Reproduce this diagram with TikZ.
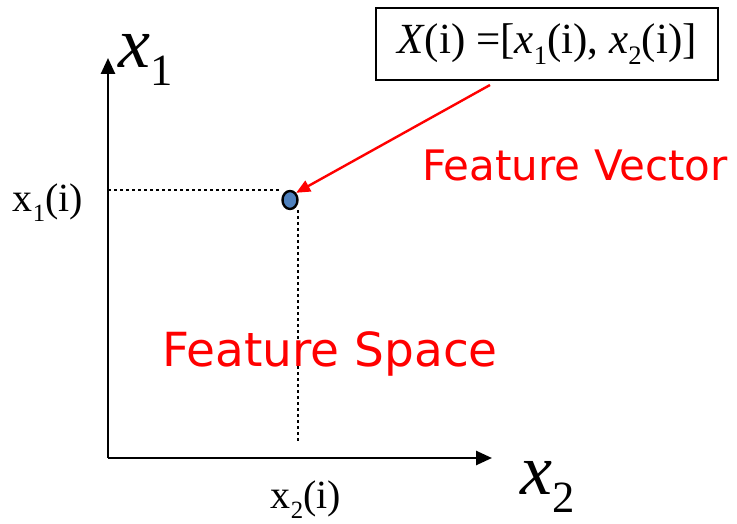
\documentclass[tikz,border=0pt]{standalone}
\usepackage{fontspec}
\usepackage{graphicx}
\setmainfont{Liberation Serif}
\newfontfamily\vsans{DejaVu Sans}
\usetikzlibrary{arrows.meta,shapes.geometric}
\definecolor{dotblue}{RGB}{79,129,189}
\newcommand\lsub[1]{\raisebox{-0.25em}{\scalebox{0.62}{#1}}}
\begin{document}
\begin{tikzpicture}[x=1pt,y=-1pt,
  axis/.style={line width=2.6pt,-{Triangle[length=16pt,width=14pt]}},
  guide/.style={line width=2.6pt,dash pattern=on 2.6pt off 3.4pt},
  redlbl/.style={text=red},
  ]
\useasboundingbox (0,0) rectangle (737,524);
\coordinate (O) at (108,458);
\coordinate (ytip) at (108,58);
\coordinate (xtip) at (492,458);
\draw[axis] (O) -- (ytip);
\draw[axis] (O) -- (xtip);
\node (dot) [ellipse,draw,line width=2.4pt,fill=dotblue,minimum width=15pt,minimum height=18pt,inner sep=0pt] at (290,200) {};
\coordinate (hl) at (108,190);
\coordinate (vb) at (298,442);
\coordinate (vt) at (298,210);
\draw[guide] (hl) -- (dot.west |- hl);
\draw[guide] (vt) -- (vb);
\node (box) [draw,line width=2pt,minimum width=342pt,minimum height=72pt,inner sep=0pt,font=\fontsize{43}{43}\selectfont] at (547,44) {\textit{X}(i) =[\textit{x}\lsub{1}(i), \textit{x}\lsub{2}(i)]};
\coordinate (as) at (490,85);
\draw[red,line width=2.4pt,-{Triangle[length=14pt,width=12pt]}] (as) -- (dot.north east);
\node (x1big) [font=\fontsize{72}{72}\selectfont] at (146,60) {\textit{x}\lsub{1}};
\node (x2big) [font=\fontsize{72}{72}\selectfont] at (548,487) {\textit{x}\lsub{2}};
\node (x1i) [font=\fontsize{40}{40}\selectfont] at (48,203) {x\lsub{1}(i)};
\node (x2i) [font=\fontsize{40}{40}\selectfont] at (306,500) {x\lsub{2}(i)};
\node (fv) [redlbl,font=\vsans\fontsize{42}{42}\selectfont] at (575,165) {Feature Vector};
\node (fs) [redlbl,font=\vsans\fontsize{47}{47}\selectfont] at (330,354) {Feature Space};
\end{tikzpicture}
\end{document}
